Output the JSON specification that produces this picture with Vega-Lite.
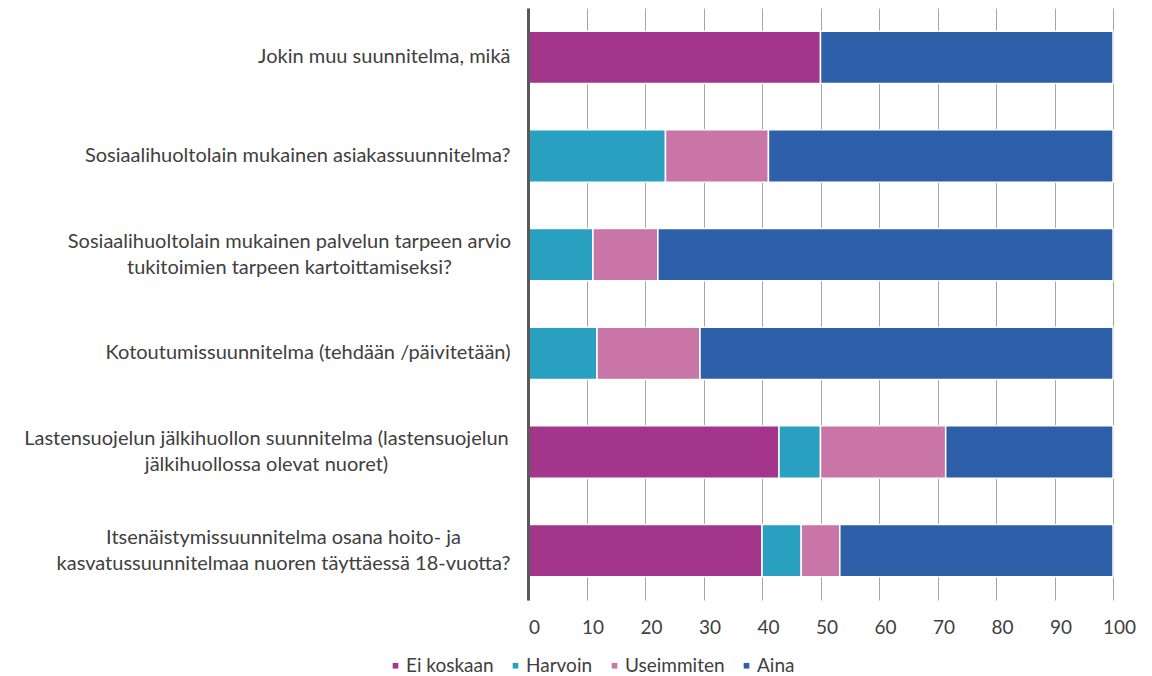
{
  "$schema": "https://vega.github.io/schema/vega-lite/v6.json",
  "autosize": {"type": "none"},
  "padding": {"left": 528, "top": 8, "right": 39, "bottom": 76},
  "width": 585,
  "height": 592,
  "background": "white",
  "data": {
    "values": [
      {"kysymys": "Jokin muu suunnitelma, mikä", "vastaus": "Ei koskaan", "jarj": 1, "osuus": 50},
      {"kysymys": "Jokin muu suunnitelma, mikä", "vastaus": "Aina", "jarj": 4, "osuus": 50},
      {"kysymys": "Sosiaalihuoltolain mukainen asiakassuunnitelma?", "vastaus": "Harvoin", "jarj": 2, "osuus": 23.5},
      {"kysymys": "Sosiaalihuoltolain mukainen asiakassuunnitelma?", "vastaus": "Useimmiten", "jarj": 3, "osuus": 17.6},
      {"kysymys": "Sosiaalihuoltolain mukainen asiakassuunnitelma?", "vastaus": "Aina", "jarj": 4, "osuus": 58.9},
      {"kysymys": "Sosiaalihuoltolain mukainen palvelun tarpeen arvio|tukitoimien tarpeen kartoittamiseksi?", "vastaus": "Harvoin", "jarj": 2, "osuus": 11.1},
      {"kysymys": "Sosiaalihuoltolain mukainen palvelun tarpeen arvio|tukitoimien tarpeen kartoittamiseksi?", "vastaus": "Useimmiten", "jarj": 3, "osuus": 11.1},
      {"kysymys": "Sosiaalihuoltolain mukainen palvelun tarpeen arvio|tukitoimien tarpeen kartoittamiseksi?", "vastaus": "Aina", "jarj": 4, "osuus": 77.8},
      {"kysymys": "Kotoutumissuunnitelma (tehdään /päivitetään)", "vastaus": "Harvoin", "jarj": 2, "osuus": 11.8},
      {"kysymys": "Kotoutumissuunnitelma (tehdään /päivitetään)", "vastaus": "Useimmiten", "jarj": 3, "osuus": 17.6},
      {"kysymys": "Kotoutumissuunnitelma (tehdään /päivitetään)", "vastaus": "Aina", "jarj": 4, "osuus": 70.6},
      {"kysymys": "Lastensuojelun jälkihuollon suunnitelma (lastensuojelun|jälkihuollossa olevat nuoret)", "vastaus": "Ei koskaan", "jarj": 1, "osuus": 42.9},
      {"kysymys": "Lastensuojelun jälkihuollon suunnitelma (lastensuojelun|jälkihuollossa olevat nuoret)", "vastaus": "Harvoin", "jarj": 2, "osuus": 7.1},
      {"kysymys": "Lastensuojelun jälkihuollon suunnitelma (lastensuojelun|jälkihuollossa olevat nuoret)", "vastaus": "Useimmiten", "jarj": 3, "osuus": 21.4},
      {"kysymys": "Lastensuojelun jälkihuollon suunnitelma (lastensuojelun|jälkihuollossa olevat nuoret)", "vastaus": "Aina", "jarj": 4, "osuus": 28.6},
      {"kysymys": "Itsenäistymissuunnitelma osana hoito- ja|kasvatussuunnitelmaa nuoren täyttäessä 18-vuotta?", "vastaus": "Ei koskaan", "jarj": 1, "osuus": 40},
      {"kysymys": "Itsenäistymissuunnitelma osana hoito- ja|kasvatussuunnitelmaa nuoren täyttäessä 18-vuotta?", "vastaus": "Harvoin", "jarj": 2, "osuus": 6.7},
      {"kysymys": "Itsenäistymissuunnitelma osana hoito- ja|kasvatussuunnitelmaa nuoren täyttäessä 18-vuotta?", "vastaus": "Useimmiten", "jarj": 3, "osuus": 6.6},
      {"kysymys": "Itsenäistymissuunnitelma osana hoito- ja|kasvatussuunnitelmaa nuoren täyttäessä 18-vuotta?", "vastaus": "Aina", "jarj": 4, "osuus": 46.7}
    ]
  },
  "mark": {"type": "bar", "stroke": "white", "strokeWidth": 1.5},
  "encoding": {
    "y": {
      "field": "kysymys",
      "type": "nominal",
      "sort": null,
      "title": null,
      "scale": {"paddingInner": 0.47, "paddingOuter": 0.235},
      "axis": {
        "zindex": 1,
        "labelExpr": "split(datum.label, '|')",
        "labelFont": "Lato",
        "labelFontSize": 20,
        "labelColor": "#404040",
        "labelLineHeight": 26,
        "labelLimit": 700,
        "labelAlign": {
          "condition": {"test": "indexof(datum.value, '|') >= 0", "value": "center"},
          "value": "right"
        },
        "labelPadding": {
          "condition": [
            {"test": "indexof(datum.value, 'palvelun tarpeen') >= 0", "value": 239},
            {"test": "indexof(datum.value, 'Lastensuojelun') >= 0", "value": 262},
            {"test": "indexof(datum.value, 'Itsenäistymis') >= 0", "value": 245}
          ],
          "value": 18
        },
        "labelOffset": {
          "condition": {"test": "indexof(datum.value, '|') >= 0", "value": -13},
          "value": 0
        },
        "ticks": false,
        "domainColor": "#595959",
        "domainWidth": 3,
        "grid": false
      }
    },
    "x": {
      "field": "osuus",
      "type": "quantitative",
      "stack": "zero",
      "title": null,
      "scale": {"domain": [0, 100], "nice": false},
      "axis": {
        "values": [0, 10, 20, 30, 40, 50, 60, 70, 80, 90, 100],
        "grid": true,
        "gridColor": "#A6A6A6",
        "gridWidth": 1,
        "domain": false,
        "ticks": false,
        "labelFont": "Lato",
        "labelFontSize": 19,
        "labelColor": "#404040",
        "labelPadding": 18,
        "labelOffset": 6,
        "labelFlush": false
      }
    },
    "color": {
      "field": "vastaus",
      "type": "nominal",
      "scale": {
        "domain": ["Ei koskaan", "Harvoin", "Useimmiten", "Aina"],
        "range": ["#A3358A", "#2AA0C0", "#C975A8", "#2E60AA"]
      },
      "legend": {
        "title": null,
        "orient": "none",
        "direction": "horizontal",
        "legendX": -142,
        "legendY": 648,
        "symbolType": "square",
        "symbolSize": 32,
        "symbolStrokeWidth": 0,
        "labelFont": "Lato",
        "labelFontSize": 19,
        "labelColor": "#404040",
        "labelOffset": 1,
        "columnPadding": 12
      }
    },
    "order": {"field": "jarj", "type": "quantitative"}
  },
  "config": {"view": {"stroke": null}}
}
